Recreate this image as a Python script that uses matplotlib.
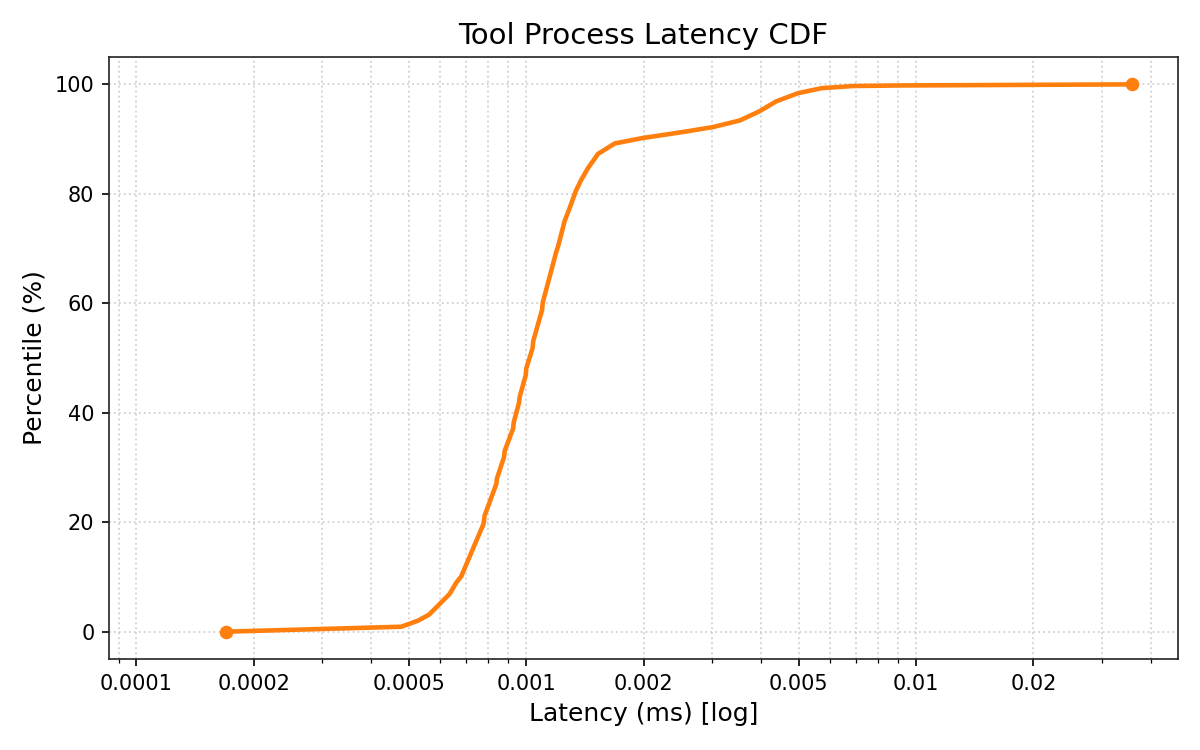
import matplotlib
matplotlib.use("Agg")
import matplotlib.pyplot as plt
from matplotlib.ticker import FixedLocator, FuncFormatter, LogLocator, NullFormatter

latency_ms = [0.000170, 0.000478, 0.000527, 0.000563, 0.000636, 0.000662, 0.000681,
              0.000777, 0.000782, 0.000838, 0.000841, 0.000877, 0.000880, 0.000925,
              0.000929, 0.000958, 0.000962, 0.000997, 0.001000, 0.001038, 0.001042,
              0.001098, 0.001102, 0.001195, 0.001210, 0.001254, 0.001292, 0.001340,
              0.001380, 0.001440, 0.001528, 0.001686, 0.001990, 0.002525, 0.003015,
              0.003530, 0.003970, 0.004380, 0.004983, 0.005720, 0.006900, 0.009100,
              0.035900]
percentile = [0, 0.9, 2.0, 3.1, 6.9, 9.0, 10.1, 19.7, 21.2, 27.0, 28.0, 31.9, 33.0,
              37.1, 38.3, 41.8, 42.9, 46.9, 48.1, 51.8, 53.1, 58.8, 60.1, 69.5, 70.7,
              75.0, 77.4, 80.5, 82.4, 84.7, 87.3, 89.2, 90.2, 91.3, 92.2, 93.4, 95.1,
              96.9, 98.4, 99.3, 99.7, 99.8, 100]
x_ticks = [0.0001, 0.0002, 0.0005, 0.001, 0.002, 0.005, 0.01, 0.02]

color = "#ff7f0e"
fig, ax = plt.subplots(figsize=(8, 5), dpi=150)
fig.subplots_adjust(left=0.0908, right=0.9817, bottom=0.1213, top=0.924)

ax.plot(latency_ms, percentile, color=color, linewidth=2.2)
ax.plot([latency_ms[0], latency_ms[-1]], [percentile[0], percentile[-1]], "o",
        color=color, markersize=5.5)

ax.set_xscale("log")
ax.set_xlim(latency_ms[0] * 0.5, 0.047)
ax.set_ylim(-5, 105)
ax.xaxis.set_major_locator(FixedLocator(x_ticks))
ax.xaxis.set_major_formatter(FuncFormatter(lambda v, _: f"{v:g}"))
ax.xaxis.set_minor_locator(LogLocator(base=10, subs=(3, 4, 6, 7, 8, 9)))
ax.xaxis.set_minor_formatter(NullFormatter())

ax.grid(True, which="both", linestyle=":", color="#c8c8c8", linewidth=0.9, alpha=0.8)
ax.set_title("Tool Process Latency CDF", fontsize=14)
ax.set_xlabel("Latency (ms) [log]", fontsize=12)
ax.set_ylabel("Percentile (%)", fontsize=12)
ax.tick_params(labelsize=10)
for s in ax.spines.values():
    s.set_color("#222222")

fig.savefig("out.png", dpi=150)
